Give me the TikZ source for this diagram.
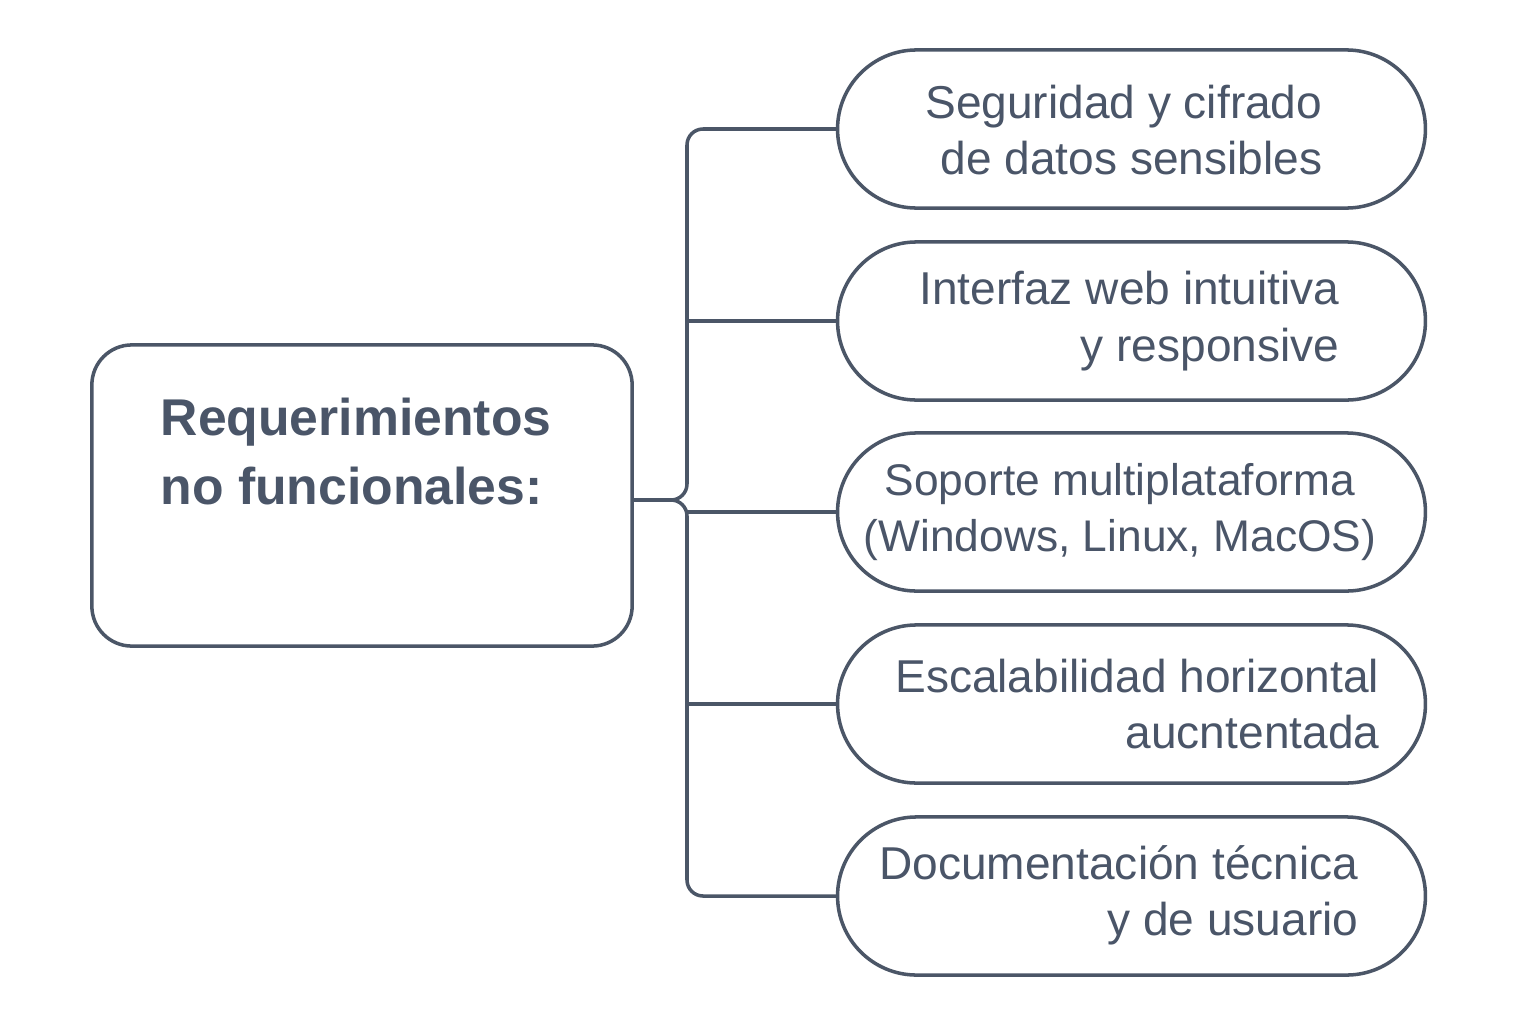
\documentclass[tikz,border=0pt]{standalone}
\usepackage{fontspec}
\setmainfont{Liberation Sans}
\usetikzlibrary{shapes.misc,positioning,calc}
\definecolor{mslate}{HTML}{4B5667}
\definecolor{mtext}{HTML}{4A5568}
\tikzstyle{l1}=[line width=1pt, color=mslate]
\tikzstyle{mainbox}=[l1, draw, rounded corners=0.4cm, minimum width=5.4cm, minimum height=3.01cm, fill=white]
\tikzstyle{pill}=[l1, draw, rounded rectangle, minimum width=6.11cm, minimum height=1.58cm, fill=white]
\tikzstyle{ptext}=[text=mtext, font=\fontsize{13.1}{16}\selectfont, inner sep=0pt]
\tikzstyle{ttext}=[text=mtext, font=\fontsize{14.7}{19.6}\selectfont\bfseries, inner sep=0pt, align=left]
\tikzstyle{conn}=[l1, rounded corners=0.16cm]

\begin{document}
\begin{tikzpicture}[x=0.01cm, y=-0.01cm]
    \useasboundingbox (0,0) rectangle (1536,1024);

    \node (req) [mainbox] at (362,495.5) {};
    \node (reqt) [ttext, anchor=north west] at (160,397) {Requerimientos\\no funcionales:};

    \node (p1) [pill] at (1131.5,129) {};
    \node (p2) [pill] at (1131.5,321) {};
    \node (p3) [pill] at (1131.5,512) {};
    \node (p4) [pill] at (1131.5,704) {};
    \node (p5) [pill] at (1131.5,896) {};

    \node (p1t) [ptext, align=right, anchor=east] at (1323,130) {Seguridad y cifrado\\de datos sensibles};
    \node (p2t) [ptext, align=right, anchor=east] at (1340,321) {Interfaz web intuitiva\\y responsive};
    \node (p3t) [ptext, align=center, font=\fontsize{12.6}{16}\selectfont] at (1120,512) {Soporte multiplataforma\\(Windows, Linux, MacOS)};
    \node (p4t) [ptext, align=right, anchor=east] at (1380,704) {Escalabilidad horizontal\\aucntentada};
    \node (p5t) [ptext, align=right, anchor=east] at (1359,895) {Documentación técnica\\y de usuario};

    % brace
    \coordinate (tip) at (687,500);
    \draw[conn] (p1.west) -- (p1.west -| tip) -- (tip) -- (tip -| req.east);
    \draw[conn] (tip -| req.east) -- (tip) -- (tip |- p5.west) -- (p5.west);
    \foreach \p in {p2,p3,p4}
        \draw[l1] (tip |- \p.west) -- (\p.west);

\end{tikzpicture}
\end{document}
